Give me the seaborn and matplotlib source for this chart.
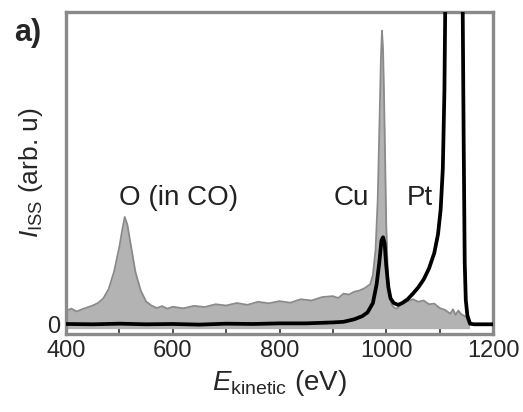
import numpy as np
import pandas as pd
import matplotlib
matplotlib.use("Agg")
import matplotlib.pyplot as plt
import seaborn as sns
from matplotlib.ticker import MultipleLocator

# ---- data ----
grey_x = [400, 410, 420, 430, 440, 450, 460, 470, 480, 490, 500, 505, 510, 515, 520, 525,
          530, 540, 550, 560, 570, 580, 590, 600, 620, 640, 660, 680, 700, 720, 740, 760,
          780, 800, 820, 840, 860, 880, 900, 910, 920, 930, 940, 950, 960, 970, 975, 980,
          984, 987, 990, 992, 994, 996, 998, 1000, 1003, 1006, 1010, 1015, 1020, 1025, 1030,
          1040, 1050, 1060, 1070, 1080, 1090, 1100, 1110, 1120, 1125, 1130, 1135, 1140,
          1145, 1150, 1153, 1156]
grey_y = [4.5, 5.2, 4.3, 5.0, 5.6, 6.2, 7.0, 8.5, 11.5, 17, 25, 30, 34.5, 32, 27, 22,
          17, 11, 7.5, 6.2, 5.4, 6.0, 5.2, 5.8, 5.3, 6.1, 5.7, 6.6, 6.2, 7.0, 6.4, 7.4,
          6.9, 7.6, 7.1, 8.2, 7.8, 8.9, 9.2, 8.6, 10.0, 9.7, 10.6, 11.0, 11.8, 13, 16, 24,
          40, 62, 85, 94, 88, 72, 52, 32, 16, 9.5, 6.5, 5.5, 5.2, 6.0, 6.8,
          7.5, 8.2, 7.4, 7.8, 6.6, 6.8, 5.4, 4.8, 3.6, 5.0, 3.2, 4.6, 3.5,
          3.0, 2.5, 1.0, 0.0]

black_x = [400, 450, 500, 550, 600, 650, 700, 750, 800, 850, 900, 920, 940, 955, 965, 975,
           982, 987, 991, 994, 997, 1000, 1004, 1008, 1014, 1022, 1030, 1040, 1050, 1060,
           1070, 1080, 1090, 1097, 1102, 1106, 1109, 1111, 1120, 1135, 1142, 1145, 1147,
           1149, 1152, 1157, 1165, 1200]
black_y = [0.3, 0.2, 0.4, 0.2, 0.3, 0.1, 0.4, 0.3, 0.5, 0.5, 0.8, 1.0, 1.8, 2.8, 4.0, 7.0,
           13, 20, 27, 28, 26, 19, 12, 8.5, 7, 6.4, 7, 8.2, 10, 12,
           14.5, 18, 23, 29, 37, 50, 75, 110, 160, 160, 130, 60, 20,
           8, 3, 0.4, 0.2, 0.2]

peak_labels = ["O (in CO)", "Cu", "Pt"]
label_x = [610, 935, 1063]
label_y = [40.6, 40.6, 40.6]

xticks = [400, 600, 800, 1000, 1200]
yticks = [0]

# ---- style ----
sns.set_style("white")
plt.rcParams["font.family"] = ["Liberation Sans", "DejaVu Sans"]
plt.rcParams["mathtext.fontset"] = "custom"
plt.rcParams["mathtext.rm"] = "Liberation Sans"
plt.rcParams["mathtext.it"] = "Liberation Sans:italic"

fig = plt.figure(figsize=(5.23, 4.12), dpi=100)
ax = fig.add_axes([66 / 523, 1 - 334 / 412, (493 - 66) / 523, (334 - 12) / 412])

gdf = pd.DataFrame({"E": grey_x, "I": grey_y})
bdf = pd.DataFrame({"E": black_x, "I": black_y})

ax.fill_between(gdf["E"], -1.2, gdf["I"], color="#b3b3b3", lw=0, zorder=1)
sns.lineplot(data=gdf, x="E", y="I", ax=ax, color="#8a8a8a", lw=1.3,
             estimator=None, zorder=2)
sns.lineplot(data=bdf, x="E", y="I", ax=ax, color="black", lw=2.7,
             estimator=None, zorder=3)

ax.set_xlim(400, 1200)
ax.set_ylim(-2.9, 100)
ax.set_xticks(xticks)
ax.xaxis.set_minor_locator(MultipleLocator(100))
ax.set_yticks(yticks)
ax.tick_params(axis="both", which="both", direction="in", labelsize=17,
               color="#333333", width=1.2, bottom=True, left=True, pad=4)
ax.tick_params(axis="both", which="major", length=4)
ax.tick_params(axis="x", which="minor", length=4)

for s in ax.spines.values():
    s.set_color("#8a8a8a")
    s.set_linewidth(2.4)

for t, x, y in zip(peak_labels, label_x, label_y):
    ax.text(x, y, t, ha="center", va="center", fontsize=20, color="#222222")

ax.set_xlabel(r"$E_{\rm kinetic}$ (eV)", fontsize=20, labelpad=5)
ax.set_ylabel(r"$I_{\rm ISS}$ (arb. u)", fontsize=19, labelpad=2)

fig.text(14 / 523, 1 - 33 / 412, "a)", fontsize=22, fontweight="bold",
         ha="left", va="center")

fig.savefig("out.png", dpi=100)
